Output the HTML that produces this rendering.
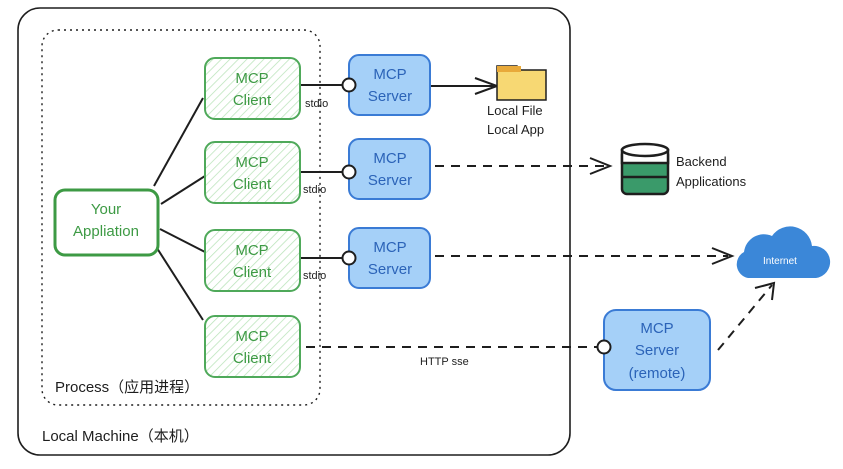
<!DOCTYPE html>
<html><head><meta charset="utf-8"><style>
body{margin:0;background:#fff}
text{font-family:"Liberation Sans","Noto Sans CJK SC",sans-serif}
</style></head><body>
<svg width="843" height="464" viewBox="0 0 843 464" xmlns="http://www.w3.org/2000/svg">
<defs>
<pattern id="h" width="6" height="6" patternUnits="userSpaceOnUse" patternTransform="rotate(45)">
<rect width="6" height="6" fill="#fff"/><line x1="0" y1="0" x2="0" y2="6" stroke="#b9e3b9" stroke-width="1.5"/>
</pattern>
</defs>
<rect x="18" y="8" width="552" height="447" rx="22" fill="none" stroke="#1e1e1e" stroke-width="1.6"/>
<rect x="42" y="30" width="278" height="375" rx="16" fill="none" stroke="#1e1e1e" stroke-width="1.4" stroke-dasharray="2,4"/>
<text x="55" y="392" font-size="15" fill="#1e1e1e">Process（应用进程）</text>
<text x="42" y="441" font-size="15" fill="#1e1e1e">Local Machine（本机）</text>
<g stroke="#1e1e1e" stroke-width="2" fill="none">
<line x1="154" y1="186" x2="203" y2="98"/>
<line x1="161" y1="204" x2="205" y2="176"/>
<line x1="160" y1="229" x2="205" y2="252"/>
<line x1="155" y1="245" x2="203" y2="320"/>
<line x1="300" y1="85" x2="349" y2="85"/>
<line x1="300" y1="172" x2="343" y2="172"/>
<line x1="300" y1="258" x2="343" y2="258"/>
<line x1="430" y1="86" x2="495" y2="86"/>
<polyline points="475,78 497,86 475,94"/>
</g>
<g stroke="#1e1e1e" stroke-width="2" fill="none" stroke-dasharray="9,7">
<line x1="435" y1="166" x2="605" y2="166"/>
<line x1="435" y1="256" x2="728" y2="256"/>
<line x1="306" y1="347" x2="598" y2="347"/>
<line x1="718" y1="350" x2="772" y2="285"/>
</g>
<g stroke="#1e1e1e" stroke-width="2" fill="none">
<polyline points="590,158 610,166 590,174"/>
<polyline points="712,248 732,256 712,264"/>
<polyline points="755,288 774,283 772,300"/>
</g>
<rect x="55" y="190" width="103" height="65" rx="10" fill="#fff" stroke="#3d9a44" stroke-width="3"/>
<text x="106" y="214" font-size="15" fill="#3d9a44" text-anchor="middle">Your</text>
<text x="106" y="236" font-size="15" fill="#3d9a44" text-anchor="middle">Appliation</text>
<g fill="url(#h)" stroke="#4fa95a" stroke-width="2">
<rect x="205" y="58" width="95" height="61" rx="10"/>
<rect x="205" y="142" width="95" height="61" rx="10"/>
<rect x="205" y="230" width="95" height="61" rx="10"/>
<rect x="205" y="316" width="95" height="61" rx="10"/>
</g>
<g font-size="15" fill="#3d9a44" text-anchor="middle">
<text x="252" y="83">MCP</text><text x="252" y="105">Client</text>
<text x="252" y="167">MCP</text><text x="252" y="189">Client</text>
<text x="252" y="255">MCP</text><text x="252" y="277">Client</text>
<text x="252" y="341">MCP</text><text x="252" y="363">Client</text>
</g>
<g font-size="11" fill="#1e1e1e">
<text x="305" y="107">stdio</text><text x="303" y="193">stdio</text><text x="303" y="279">stdio</text>
<text x="420" y="365">HTTP sse</text>
</g>
<g fill="#a5d0f8" stroke="#3a7bd5" stroke-width="2">
<rect x="349" y="55" width="81" height="60" rx="10"/>
<rect x="349" y="139" width="81" height="60" rx="10"/>
<rect x="349" y="228" width="81" height="60" rx="10"/>
<rect x="604" y="310" width="106" height="80" rx="12"/>
</g>
<g font-size="15" fill="#2b63b8" text-anchor="middle">
<text x="390" y="79">MCP</text><text x="390" y="101">Server</text>
<text x="390" y="163">MCP</text><text x="390" y="185">Server</text>
<text x="390" y="252">MCP</text><text x="390" y="274">Server</text>
<text x="657" y="333">MCP</text><text x="657" y="355">Server</text><text x="657" y="378">(remote)</text>
</g>
<g fill="#fff" stroke="#1e1e1e" stroke-width="2">
<circle cx="349" cy="85" r="6.5"/><circle cx="349" cy="172" r="6.5"/><circle cx="349" cy="258" r="6.5"/><circle cx="604" cy="347" r="6.5"/>
</g>
<path d="M497,66 h20 l4,4 h25 v30 h-49 z" fill="#f7d873" stroke="#1e1e1e" stroke-width="1.5"/>
<rect x="497" y="66" width="24" height="6" fill="#e8a93a"/>
<text x="487" y="115" font-size="13" fill="#1e1e1e">Local File</text>
<text x="487" y="134" font-size="13" fill="#1e1e1e">Local App</text>
<g stroke="#1e1e1e" stroke-width="2.5">
<rect x="622" y="150" width="46" height="44" rx="5" fill="#3a9a6a"/>
<rect x="622" y="150" width="46" height="13" fill="#fff"/>
<ellipse cx="645" cy="150" rx="23" ry="6" fill="#fff"/>
<line x1="622" y1="177" x2="668" y2="177"/>
</g>
<text x="676" y="166" font-size="13" fill="#1e1e1e">Backend</text>
<text x="676" y="186" font-size="13" fill="#1e1e1e">Applications</text>
<path d="M748,278 a14,14 0 0 1 -4,-26 a20,20 0 0 1 28,-16 a22,22 0 0 1 40,10 a16,16 0 0 1 4,32 z" fill="#3b87d8"/>
<text x="780" y="264" font-size="10" fill="#fff" text-anchor="middle">Internet</text>
</svg>
</body></html>
